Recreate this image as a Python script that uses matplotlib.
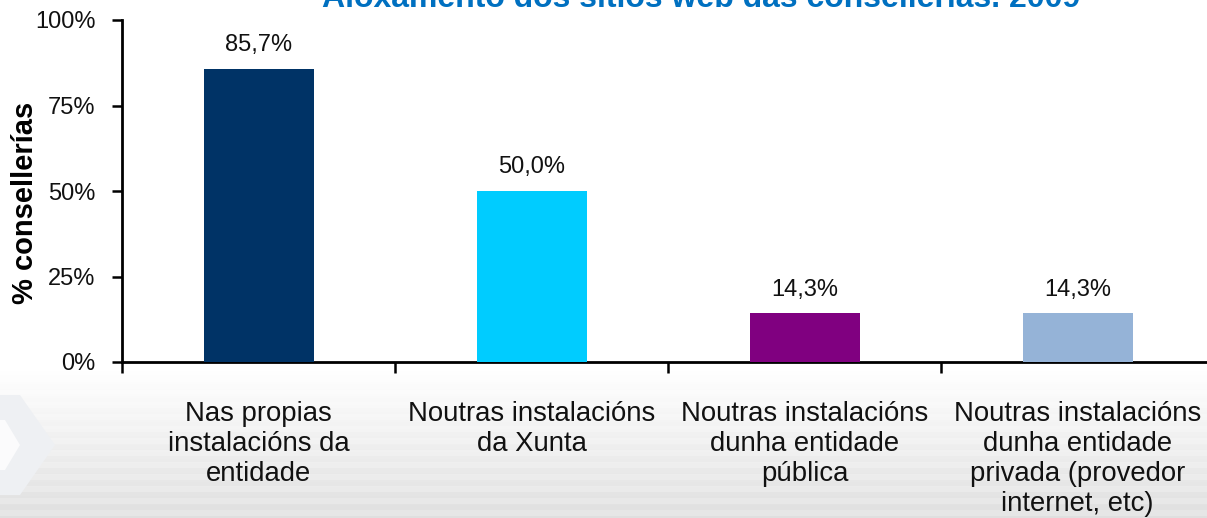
import matplotlib
matplotlib.use("Agg")
import matplotlib.pyplot as plt
import numpy as np
from matplotlib.patches import Polygon

categories = ["Nas propias\ninstalacións da\nentidade",
              "Noutras instalacións\nda Xunta",
              "Noutras instalacións\ndunha entidade\npública",
              "Noutras instalacións\ndunha entidade\nprivada (provedor\ninternet, etc)"]
values = [85.7, 50.0, 14.3, 14.3]
value_labels = ["85,7%", "50,0%", "14,3%", "14,3%"]
colors = ["#003366", "#00CCFF", "#800080", "#95B3D7"]
yticks = [0, 25, 50, 75, 100]
ytick_labels = ["0%", "25%", "50%", "75%", "100%"]
title = "Aloxamento dos sitios web das consellerías. 2009"

plt.rcParams['font.family'] = ['Liberation Sans', 'DejaVu Sans']

W, H = 1207, 518
fig = plt.figure(figsize=(W/100, H/100), dpi=100)

# background decoration
bg = fig.add_axes([0, 0, 1, 1], zorder=-10)
bg.set_xlim(0, W); bg.set_ylim(H, 0); bg.axis('off')
grad = np.ones((H, 1))
for y in range(H):
    if y > 370:
        t = (y - 370) / (H - 370)
        v = 1 - 0.10 * t
        if (y // 6) % 2 == 0:
            v -= 0.025 * t
        grad[y, 0] = v
bg.imshow(np.dstack([np.repeat(grad, W, axis=1)] * 3), extent=[0, W, H, 0], aspect='auto')
bg.add_patch(Polygon([[0, 395], [20, 395], [55, 445], [20, 495], [0, 495]], closed=True,
                     facecolor='#eef0f3', edgecolor='none'))
bg.add_patch(Polygon([[0, 420], [5, 420], [20, 445], [5, 470], [0, 470]], closed=True,
                     facecolor='#fbfbfc', edgecolor='none'))

left = 122 / W
bottom = 1 - 362 / H
width = 1092 / W
height = (362 - 20) / H
ax = fig.add_axes([left, bottom, width, height])
ax.patch.set_alpha(0)

x = np.arange(len(values)) + 0.5
ax.bar(x, values, width=110/273, color=colors, zorder=3)
for xi, v, lab in zip(x, values, value_labels):
    ax.annotate(lab, (xi, v), xytext=(0, 9), textcoords='offset points',
                ha='center', va='bottom', fontsize=17, color='#111111')

ax.set_xlim(0, 4)
ax.set_ylim(0, 100)
ax.set_yticks(yticks)
ax.set_yticklabels(ytick_labels, fontsize=17, color='#111111')
ax.set_xticks([0, 1, 2, 3, 4])
ax.set_xticklabels([])
ax.set_xticks(x, minor=True)
ax.set_xticklabels(categories, minor=True, fontsize=19.8, color='#111111', linespacing=1.2)
ax.tick_params(axis='x', which='major', length=8, width=1.8, direction='out')
ax.tick_params(axis='x', which='minor', length=0, pad=28)
ax.tick_params(axis='y', length=7, width=1.8, direction='out', pad=12)
for s in ['top', 'right']:
    ax.spines[s].set_visible(False)
for s in ['left', 'bottom']:
    ax.spines[s].set_linewidth(2)

fig.text(25 / W, 1 - 203 / H, "% consellerías", rotation=90, ha='center', va='center',
         fontsize=21, fontweight='bold', color='#000000')

fig.text(701 / W, 1 - 7 / H, title, ha='center', va='baseline',
         fontsize=23, fontweight='bold', color='#0070C0')

fig.savefig("out.png", dpi=100)
